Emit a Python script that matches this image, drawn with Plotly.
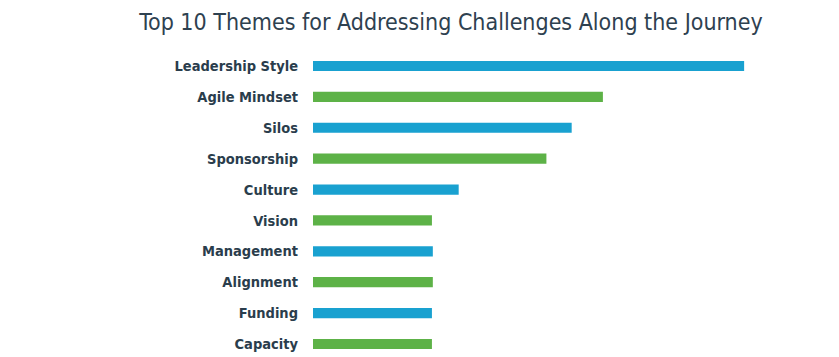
import plotly.graph_objects as go

categories = ["Leadership Style", "Agile Mindset", "Silos", "Sponsorship", "Culture",
              "Vision", "Management", "Alignment", "Funding", "Capacity"]
values = [14.5, 9.75, 8.7, 7.85, 4.9, 4.0, 4.03, 4.03, 4.0, 4.0]
bar_colors = ["#19a1d0", "#5db247", "#19a1d0", "#5db247", "#19a1d0",
              "#5db247", "#19a1d0", "#5db247", "#19a1d0", "#5db247"]
title_text = "Top 10 Themes for Addressing Challenges Along the Journey"

fig = go.Figure(go.Bar(
    x=values, y=categories, orientation="h",
    marker=dict(color=bar_colors, line=dict(width=0)),
    width=0.33, hoverinfo="x+y",
))

fig.update_layout(
    width=839, height=357,
    margin=dict(l=305, r=88, t=42, b=0),
    paper_bgcolor="white", plot_bgcolor="white",
    title=dict(text=title_text, x=0.528, xanchor="center", y=0.962, yanchor="middle",
               font=dict(family="DejaVu Sans Condensed", size=23, color="#2e4150")),
    xaxis=dict(range=[0, 15], visible=False, showgrid=False, zeroline=False),
    yaxis=dict(type="category", categoryorder="array", categoryarray=categories,
               range=[9.68, -0.518], showgrid=False, zeroline=False, showline=False,
               ticks="", ticklabelstandoff=14,
               tickfont=dict(family="DejaVu Sans Condensed", size=14.5, color="#2a3d4c",
                             weight="bold")),
    showlegend=False,
)

fig.write_html("out.html")
